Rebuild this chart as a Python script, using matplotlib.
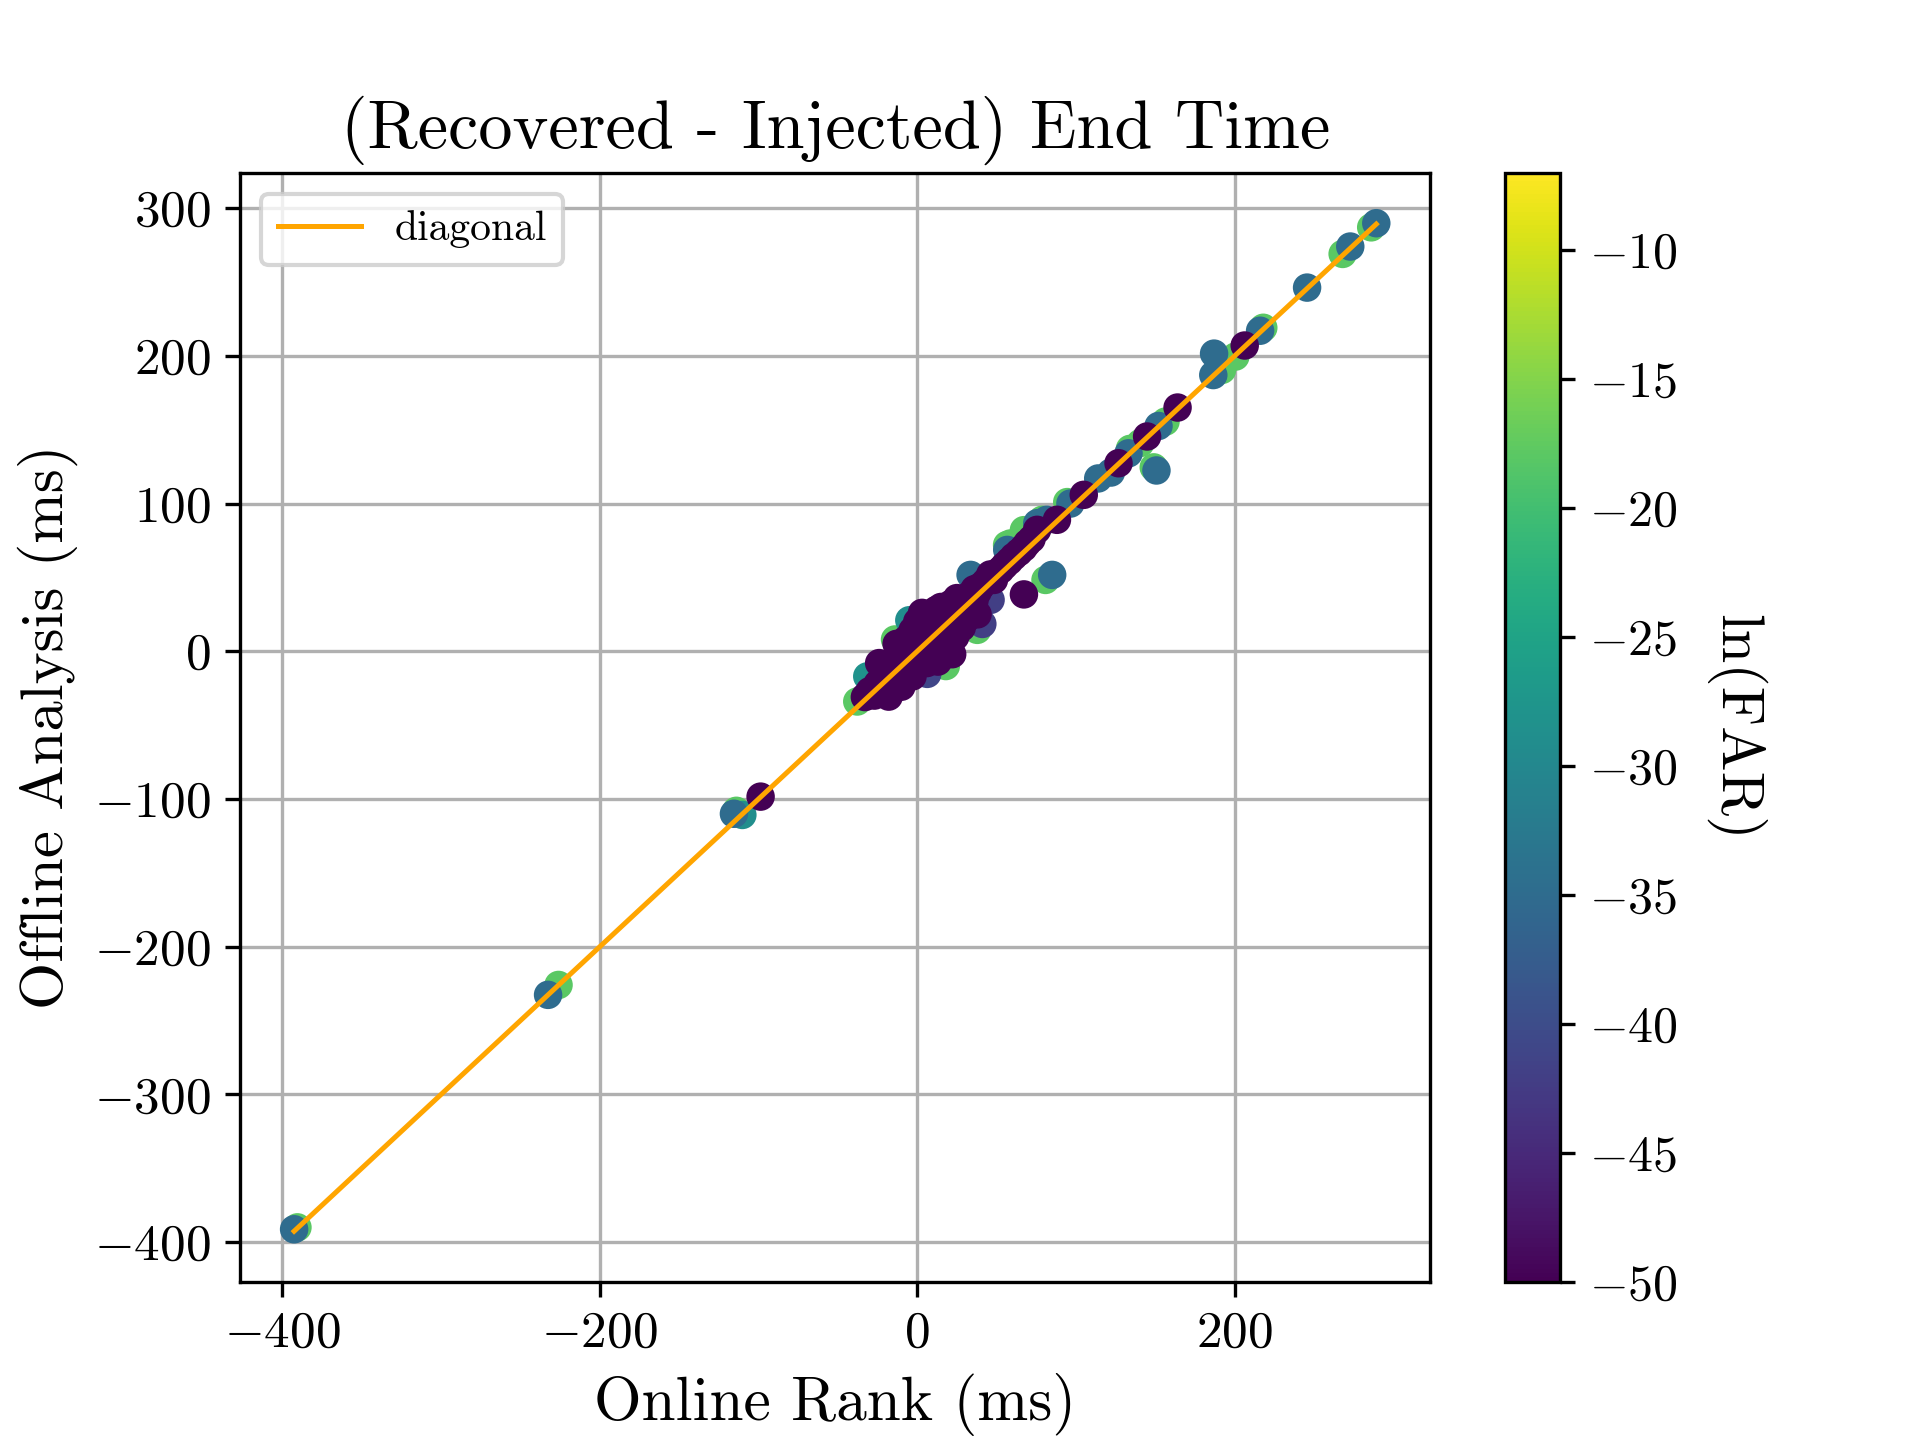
import matplotlib
matplotlib.use("Agg")
import matplotlib.pyplot as plt
from matplotlib.ticker import MultipleLocator
import numpy as np

plt.rcParams.update({
    'font.family': 'serif',
    'font.serif': ['cmr10'],
    'mathtext.fontset': 'cm',
    'axes.formatter.use_mathtext': True,
    'axes.unicode_minus': True,
})

# (online rank end time error, offline analysis end time error, ln FAR)
# green points (~ -18)
green_online = [286, 268, 218, 200.4, 192, 156.4, 140.6, 134, 149, 94.5, 71.3, 58.8, 80.8, 37.8, 18,
                -14, -37.8, -226, -390.5, -114, 78.7, 67.2, 56.6]
green_offline = [287, 269, 219, 199.5, 190.5, 155.5, 141, 137, 124.5, 101, 80, 73, 48.3, 14.5, -10,
                 8, -34, -225.9, -390, -108, 89, 82, 72]
green_lnfar = [-18] * len(green_online)

# teal points (~ -28)
teal_online = [-31.5, -5, -110.2]
teal_offline = [-17, 21, -110.8]
teal_lnfar = [-28, -29, -29]

# blue points (~ -35)
blue_online = [289.2, 272.8, 245.6, 216, 187, 186.5, 152, 133.1, 122, 114, 150.7, 96.5, 81.6, 75.6,
               56.7, 85, 33.6, -115.5, -232.6, -392.6]
blue_offline = [289.8, 274, 246.2, 217, 201.5, 187, 152.5, 134, 121, 117, 122.4, 100, 89, 86.7,
                68.6, 51.7, 51.7, -110, -232.6, -391.3]
blue_lnfar = [-35] * len(blue_online)

# dark blue points (~ -41)
dblue_online = [6.3, 46.2, 41]
dblue_offline = [-15.3, 34.8, 18.5]
dblue_lnfar = [-41, -42, -42]

# purple points (-50)
purple_online = [206.3, 164, 144.8, 126.8, 104.9, 88, 75.5, 69.3, 60.8, 52.5, 48.3, 39.9, 67.2,
                 -98.7, -18,
                 -33, -30, -27, -25, -24, -22, -20, -17, -15, -14, -13, -12, -10, -10, -10, -8, -7,
                 -6, -4, -3, -3, -2, 0, 0, 2, 3, 4, 5, 6, 8, 8, 10, 10, 12, 12, 13, 14, 15, 15, 16,
                 18, 18, 20, 21, 22, 22, 24, 25, 26, 28, 29, 31, 33, 34, 36, 36, 38, 38, 40, 43, 46,
                 50, 55, 58, 64, 67, 72]
purple_offline = [207, 165, 145.4, 127.3, 105.9, 89, 82.2, 73.2, 64.1, 55.1, 48.3, 43.8, 38.5,
                  -98.4, -30.7,
                  -31, -27, -30, -22, -8, -26, -18, -12, -20, -5, 5, -14, 2, -8, -24, -18, 8,
                  -3, -12, 14, -17, 2, 20, -6, 8, 26, -2, 16, -8, 24, 4, 12, -4, 28, 2, -7, 18, -3, 30, 8,
                  26, 14, 2, 32, 20, -2, 10, 36, 24, 16, 30, 22, 38, 28, 34, 42, 40, 25, 44, 47, 52,
                  53, 58, 61, 67, 70, 76]
purple_lnfar = [-50] * len(purple_online)

online = np.array(green_online + teal_online + blue_online + dblue_online + purple_online)
offline = np.array(green_offline + teal_offline + blue_offline + dblue_offline + purple_offline)
lnfar = np.array(green_lnfar + teal_lnfar + blue_lnfar + dblue_lnfar + purple_lnfar)

fig = plt.figure(figsize=(6.4, 4.8), dpi=300)
ax = fig.add_subplot(111)
sc = ax.scatter(online, offline, c=lnfar, cmap='viridis', vmin=-50, vmax=-7, s=34, zorder=2)
lo, hi = online.min(), online.max()
ax.plot([lo, hi], [lo, hi], color='orange', lw=1.2, label='diagonal', zorder=3)
ax.xaxis.set_major_locator(MultipleLocator(200))
ax.yaxis.set_major_locator(MultipleLocator(100))
ax.grid(True)
ax.set_axisbelow(True)
ax.legend(loc='upper left', fontsize=10)
ax.set_title('(Recovered - Injected) End Time', fontsize=16.4)
ax.set_xlabel('Online Rank (ms)', fontsize=14.7)
ax.set_ylabel('Offline Analysis (ms)', fontsize=14.6)
ax.tick_params(labelsize=12.3)
cbar = fig.colorbar(sc, ax=ax)
cbar.ax.tick_params(labelsize=12)
cbar.set_label('ln(FAR)', rotation=270, labelpad=21, fontsize=14.5)
fig.savefig('out.png', dpi=300)
